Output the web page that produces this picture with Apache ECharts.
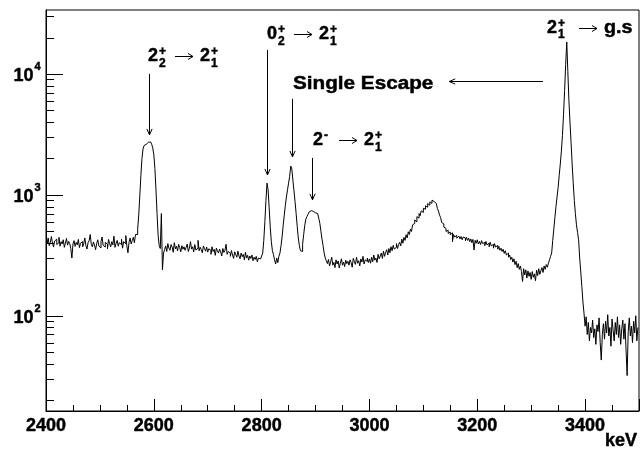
<!DOCTYPE html>
<html>
<head>
<meta charset="utf-8">
<title>Gamma spectrum</title>
<script src="https://cdn.jsdelivr.net/npm/echarts@6/dist/echarts.min.js"></script>
<style>
  html, body { margin: 0; padding: 0; background: #fff; }
  #chart { width: 643px; height: 450px; }
</style>
</head>
<body>
<div id="chart"></div>
<script>
// Energy axis (keV) and histogram binning
const E_MIN = 2400, E_MAX = 3500, BIN_WIDTH = 2;
const Y_MIN = 16.3, Y_MAX = 33800;

// Counts per 2 keV bin; each block starts at the energy listed in `blocks`
const lowBackground = [
  420, 395, 440, 380, 405, 452, 398, 370, 415, 430, 388, 402, 445, 376, 410, 392, 425, 368, 400, 436,
  384, 412, 395, 360, 300, 392, 418, 375, 404, 386, 428, 366, 398, 410, 372, 395, 440, 380, 356, 402,
  418, 470, 390, 372, 408, 384, 352, 396, 425, 378, 364, 412, 448, 382, 370, 405, 390, 358, 428, 395,
  372, 410, 386, 455, 368, 398, 420, 376, 402, 388, 430, 362, 410, 395, 460, 378, 332, 405, 440, 392,
  418, 445, 402, 470
];
const peak2592 = [
  470, 520, 680, 980, 1450, 2000, 2400, 2560, 2620, 2680, 2720, 2780, 2740, 2700, 2620, 2450,
  2150, 1650, 1100, 700, 460, 380, 360, 700, 240, 330
];
const midBackground = [
  352, 378, 340, 395, 362, 348, 388, 370, 335, 402, 358, 376, 344, 390, 366, 338, 380, 355, 372, 348,
  368, 392, 340, 362, 410, 356, 372, 338, 388, 350, 362, 420, 345, 368, 352, 332, 378, 360, 342, 370,
  336, 358, 348, 322, 372, 340, 354, 316, 362, 344, 330, 356, 338, 312, 360, 334, 348, 390, 322, 340,
  328, 310, 346, 318, 298, 338, 320, 305, 342, 312, 296, 330, 308, 322, 290, 335, 300, 316, 288, 312,
  298, 318, 285, 305, 292, 310, 280, 300, 295, 305, 312
];
const peaks2812to2900 = [
  330, 420, 600, 900, 1250, 1100, 780, 540, 410, 345, 320, 290, 268, 300, 275, 310, 330, 380, 450, 560,
  680, 820, 960, 1100, 1250, 1420, 1730, 1640, 1320, 1080, 880, 700, 550, 440, 380, 345, 340,
  390,
  470, 560, 630, 660, 690, 720, 740, 745, 730, 735, 710, 715, 700, 680, 640, 580, 500, 430, 380, 330, 300, 285
];
const plateau = [
  270, 292, 258, 280, 305, 262, 276, 250, 290, 268, 284, 248, 272, 296, 262, 278, 255, 288, 270, 282,
  262, 290, 275, 252, 298, 280, 266, 305, 272, 285, 258, 295, 278, 310, 268, 290, 282, 300, 276, 295
];
const comptonHump = [
  272, 305, 280, 318, 288, 300, 276, 322, 296, 312,
  330, 298, 342, 310, 335, 352, 318, 360, 332, 372,
  345, 382, 356, 368, 395, 360, 388, 405, 378, 430,
  398, 445, 420, 468, 440, 495, 470, 520, 498, 565,
  580, 620, 598, 660, 642, 700, 672, 738, 715, 775,
  760, 812, 790, 848, 820, 875, 850, 905, 880,
  895, 850, 830, 770, 735, 680, 650, 590, 575, 540,
  528, 498, 510, 480, 492, 468, 485, 410, 470, 448,
  462, 438, 455, 470, 432, 452, 425, 448, 440, 418,
  445, 420, 438, 410, 432, 402, 428, 350, 420, 398,
  425, 392, 412, 388, 418, 395, 405, 380, 412, 386,
  398, 372, 405, 378, 390, 362, 395, 370, 382, 355,
  375, 348, 362, 340, 355, 328, 345, 318, 330, 305,
  318, 292, 305, 278, 296, 265, 282, 250, 270, 242,
  258, 232, 192, 245, 218, 240, 205, 235, 212, 228,
  200, 232, 208, 222, 195, 238, 215, 245, 220, 236,
  250, 228, 258, 242, 265, 252, 272, 290, 310
];
const peak3366 = [
  330, 420, 520, 650, 800, 960, 1150, 1450, 1800, 2300, 3100, 4600, 7300, 12000, 18400,
  10500, 6000, 4000, 2700, 1800, 1250, 900, 700, 565, 490, 424, 300, 230, 175, 130, 105
];
const highTail = [
  82, 98, 70, 88, 62, 80, 72, 92, 66, 78, 58, 84, 74, 96, 60, 43, 70, 86, 64, 90,
  72, 102, 68, 80, 56, 94, 76, 62, 88, 70, 98, 66, 84, 58, 78, 92, 64, 86, 52, 32,
  74, 96, 68, 82, 60, 90, 72, 100, 62, 80
];
const blocks = [
  [2400, lowBackground], [2568, peak2592], [2620, midBackground], [2802, peaks2812to2900],
  [2922, plateau], [3002, comptonHump], [3338, peak3366], [3400, highTail]
];

// Axis tick values
const xTickLabels = [2400, 2600, 2800, 3000, 3200, 3400];
const yDecades = [10, 100, 1000, 10000];

// Transition labels: text anchor (keV, counts) and arrows (keV, tail counts, tip counts)
const annotations = [
  { at: [2589.2, 14350], parts: [{ t: '2', sup: '+', sub: '2' }, { arrow: true }, { t: '2', sup: '+', sub: '1' }],
    arrows: [{ v: [2591, 10000, 3130] }] },
  { at: [2809.9, 21800], parts: [{ t: '0', sup: '+', sub: '2' }, { arrow: true }, { t: '2', sup: '+', sub: '1' }],
    arrows: [{ v: [2810, 15800, 1460] }] },
  { at: [2858.2, 8380], parts: [{ t: 'Single Escape', stretch: 1.15 }],
    arrows: [{ v: [2856, 6220, 2060] }, { h: [8760, 3322, 3148] }] },
  { at: [2895.3, 2900], parts: [{ t: '2', sup: '-' }, { arrow: true, before: 11 }, { t: '2', sup: '+', sub: '1' }],
    arrows: [{ v: [2893, 2020, 909] }] },
  { at: [3329.3, 24600], parts: [{ t: '2', sup: '+', sub: '1' }, { arrow: true, before: 14 }, { t: 'g.s', stretch: 1.1 }],
    arrows: [] }
];

// ---- build histogram points at bin centres
const spectrum = [];
blocks.forEach(([start, values]) => {
  values.forEach((c, i) => spectrum.push([start + BIN_WIDTH * i + BIN_WIDTH / 2, c]));
});

const yMinorTicks = [];
yDecades.forEach(d => {
  for (let m = 2; m <= 9; m++) {
    const v = m * d;
    if (v > Y_MIN && v < Y_MAX) yMinorTicks.push(v);
  }
});
const yMajorTicks = yDecades.filter(v => v > Y_MIN && v < Y_MAX);

const FONT_FAMILY = '"Liberation Sans", Arial, Helvetica, sans-serif';
const BIG_FONT = 'bold 18px ' + FONT_FAMILY;
const SCRIPT_FONT = 'bold 12px ' + FONT_FAMILY;
const TEXT_STROKE = 0.45;

const measureCtx = document.createElement('canvas').getContext('2d');
function textWidth(text, font) {
  measureCtx.font = font;
  return measureCtx.measureText(text).width;
}

function txt(text, x, y, font, align, stretch) {
  return {
    type: 'text', x: x, y: y, scaleX: stretch || 1,
    style: {
      text: text, x: 0, y: 0, font: font, fill: '#000',
      stroke: '#000', lineWidth: TEXT_STROKE,
      align: align || 'left', verticalAlign: 'middle'
    }
  };
}

const lineStyle = { stroke: '#000', lineWidth: 1, fill: null };

function arrowShape(x1, y1, x2, y2, L, W) {
  const ang = Math.atan2(y2 - y1, x2 - x1);
  const bx = x2 - L * Math.cos(ang), by = y2 - L * Math.sin(ang);
  const nx = -Math.sin(ang) * W, ny = Math.cos(ang) * W;
  return [
    { type: 'line', shape: { x1: x1, y1: y1, x2: x2, y2: y2 }, style: lineStyle },
    { type: 'polyline', shape: { points: [[bx + nx, by + ny], [x2, y2], [bx - nx, by - ny]] }, style: lineStyle }
  ];
}

// lay out a label with stacked super/subscripts around a cap-height centre line
function layoutLabel(parts, x0, cy) {
  let out = [];
  let x = x0;
  parts.forEach(p => {
    if (p.arrow) {
      x += p.before || 9;
      const ay = Math.round(cy) + 1.5;
      out = out.concat(arrowShape(x, ay, x + 18, ay, 5, 3));
      x += 18 + 7;
      return;
    }
    const s = p.stretch || 1;
    out.push(txt(p.t, x, cy + 0.9, BIG_FONT, 'left', s));
    x += textWidth(p.t, BIG_FONT) * s;
    if (p.sup || p.sub) {
      const sx = x + 1;
      let w = 0;
      if (p.sup) {
        out.push(txt(p.sup, sx, cy - 3.3, SCRIPT_FONT));
        w = Math.max(w, textWidth(p.sup, SCRIPT_FONT));
      }
      if (p.sub) {
        out.push(txt(p.sub, sx, cy + 8.3, SCRIPT_FONT));
        w = Math.max(w, textWidth(p.sub, SCRIPT_FONT));
      }
      x = sx + w;
    }
  });
  return out;
}

const chart = echarts.init(document.getElementById('chart'), null, { renderer: 'canvas' });

chart.setOption({
  animation: false,
  backgroundColor: '#fff',
  grid: {
    left: 46, right: 4, top: 10, bottom: 39,
    show: true, borderColor: '#000', borderWidth: 1, backgroundColor: 'transparent',
    containLabel: false, outerBoundsMode: 'none'
  },
  xAxis: {
    type: 'value', min: E_MIN, max: E_MAX, interval: 200,
    axisLine: { show: true, onZero: false, lineStyle: { color: '#000', width: 1 } },
    axisTick: { show: true, inside: true, length: 12, lineStyle: { color: '#000', width: 1 } },
    minorTick: { show: true, splitNumber: 4, length: 6, lineStyle: { color: '#000', width: 1 } },
    splitLine: { show: false }, minorSplitLine: { show: false },
    axisLabel: {
      color: '#000', fontFamily: FONT_FAMILY, fontWeight: 'bold', fontSize: 18, lineHeight: 18, margin: 6,
      textBorderColor: '#000', textBorderWidth: TEXT_STROKE,
      formatter: v => (xTickLabels.indexOf(v) >= 0 ? String(v) : '')
    }
  },
  yAxis: {
    type: 'log', logBase: 10, min: Y_MIN, max: Y_MAX,
    axisLine: { show: true, onZero: false, lineStyle: { color: '#000', width: 1 } },
    axisTick: { show: false }, axisLabel: { show: false },
    splitLine: { show: false }, minorTick: { show: false }
  },
  graphic: [{
    type: 'text', x: 637, y: 441.5,
    style: {
      text: 'keV', font: BIG_FONT, fill: '#000', stroke: '#000', lineWidth: TEXT_STROKE,
      align: 'right', verticalAlign: 'middle'
    }
  }],
  series: [
    {
      name: 'spectrum', type: 'line', data: spectrum, step: 'middle',
      showSymbol: false, symbol: 'none', sampling: null, silent: true,
      lineStyle: { color: '#000', width: 1 }
    },
    {
      // logarithmic y-axis ticks and decade labels
      name: 'yTicks', type: 'custom', silent: true, clip: false,
      data: yMinorTicks.map(v => [E_MIN, v, 0]).concat(yMajorTicks.map(v => [E_MIN, v, 1])),
      renderItem: (params, api) => {
        const p = api.coord([api.value(0), api.value(1)]);
        const major = api.value(2) === 1;
        const len = major ? 17 : 8;
        const y = Math.round(p[1]) + 0.5;
        const children = [{
          type: 'line', shape: { x1: p[0], y1: y, x2: p[0] + len, y2: y },
          style: { stroke: '#000', lineWidth: 1 }
        }];
        if (major) {
          const exp = Math.round(Math.log10(api.value(1)));
          children.push(txt('10', p[0] - 12.5, p[1] + 2.2, BIG_FONT, 'right'));
          children.push(txt(String(exp), p[0] - 11.5, p[1] - 6.5, 'bold 11px ' + FONT_FAMILY, 'left'));
        }
        return { type: 'group', children: children };
      }
    },
    {
      // transition labels with arrows pointing at the peaks
      name: 'labels', type: 'custom', silent: true, clip: false,
      data: annotations.map(a => a.at),
      renderItem: (params, api) => {
        const a = annotations[params.dataIndex];
        const p = api.coord([api.value(0), api.value(1)]);
        let children = layoutLabel(a.parts, p[0], p[1]);
        a.arrows.forEach(ar => {
          if (ar.v) {
            const t = api.coord([ar.v[0], ar.v[1]]), h = api.coord([ar.v[0], ar.v[2]]);
            const x = Math.round(t[0]) + 0.5;
            children = children.concat(arrowShape(x, t[1], x, h[1], 6, 2.6));
          } else {
            const t = api.coord([ar.h[1], ar.h[0]]), h = api.coord([ar.h[2], ar.h[0]]);
            const y = Math.round(t[1]) + 0.5;
            children = children.concat(arrowShape(t[0], y, h[0], y, 6, 2.6));
          }
        });
        return { type: 'group', children: children };
      }
    }
  ]
});
</script>
</body>
</html>
